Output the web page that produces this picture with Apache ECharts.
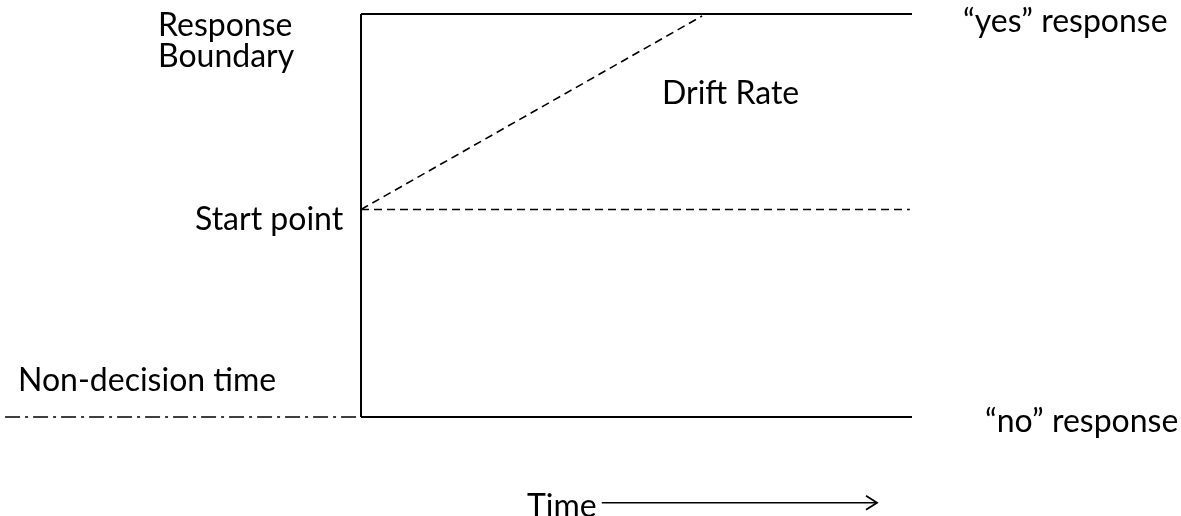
<!DOCTYPE html>
<html><head><meta charset="utf-8">
<script src="https://cdn.jsdelivr.net/npm/echarts@6/dist/echarts.min.js"></script>
<style>html,body{margin:0;padding:0;background:#fff}#c{width:1181px;height:516px}</style>
</head><body><div id="c"></div>
<script>
// Model geometry (data units: time on x, evidence on y; 0 = lower "no" boundary, 1 = upper "yes" boundary)
const upperBoundary = [[0, 1], [1, 1]];
const lowerBoundary = [[0, 0], [1, 0]];
const decisionAxis = [[0, 0], [0, 1]];
const startPointLine = [[0, 0.515], [0.996, 0.515]];
const driftPath = [[0, 0.515], [0.619, 0.995]];
const nonDecisionLine = [[-0.646, 0], [-0.005, 0]];
const timeArrow = [[0.437, -0.213], [0.9365, -0.213]];
const labels = ['Response', 'Boundary', 'Start point', 'Drift Rate', '\u201cyes\u201d response', '\u201cno\u201d response', 'Non-decision time', 'Time'];

const chart = echarts.init(document.getElementById('c'), null, {renderer: 'canvas'});
const FONT = 'Lato, "Open Sans", sans-serif';
const FS = 32;
function txt(s, x, baseline) {
  return {type: 'text', x: x, y: baseline - 6, style: {text: s, font: FS + 'px ' + FONT, fill: '#000', verticalAlign: 'middle', align: 'left'}};
}
const solid = {color: '#000', width: 2, type: 'solid'};
function lineSeries(data, ls) {
  return {type: 'line', data: data, symbol: 'none', silent: true, animation: false, lineStyle: ls};
}
chart.setOption({
  animation: false,
  grid: {left: 0, right: 0, top: 0, bottom: 0},
  xAxis: {type: 'value', min: -0.6552, max: 1.4882, show: false},
  yAxis: {type: 'value', min: -0.2457, max: 1.0347, show: false},
  series: [
    lineSeries(upperBoundary, solid),
    lineSeries(lowerBoundary, solid),
    lineSeries(decisionAxis, solid),
    lineSeries(startPointLine, {color: '#000', width: 1.6, type: [8, 5]}),
    lineSeries(driftPath, {color: '#000', width: 1.6, type: [8, 5]}),
    lineSeries(nonDecisionLine, {color: '#000', width: 1.6, type: [15, 5, 3, 5]}),
    lineSeries(timeArrow, {color: '#000', width: 1.5, type: 'solid'}),
    {
      type: 'custom', silent: true, animation: false,
      data: [timeArrow[1]],
      renderItem: function (params, api) {
        const p = api.coord([api.value(0), api.value(1)]);
        return {type: 'polyline', shape: {points: [[p[0] - 11, p[1] - 7], [p[0], p[1]], [p[0] - 11, p[1] + 7]]},
          style: {stroke: '#000', lineWidth: 1.8, fill: null}};
      }
    }
  ],
  graphic: [
    txt(labels[0], 158, 32),
    txt(labels[1], 158, 63),
    txt(labels[2], 195, 226),
    txt(labels[3], 662, 100),
    txt(labels[4], 963, 28),
    txt(labels[5], 985, 428),
    txt(labels[6], 18, 387),
    txt(labels[7], 527, 513)
  ]
});
</script></body></html>
